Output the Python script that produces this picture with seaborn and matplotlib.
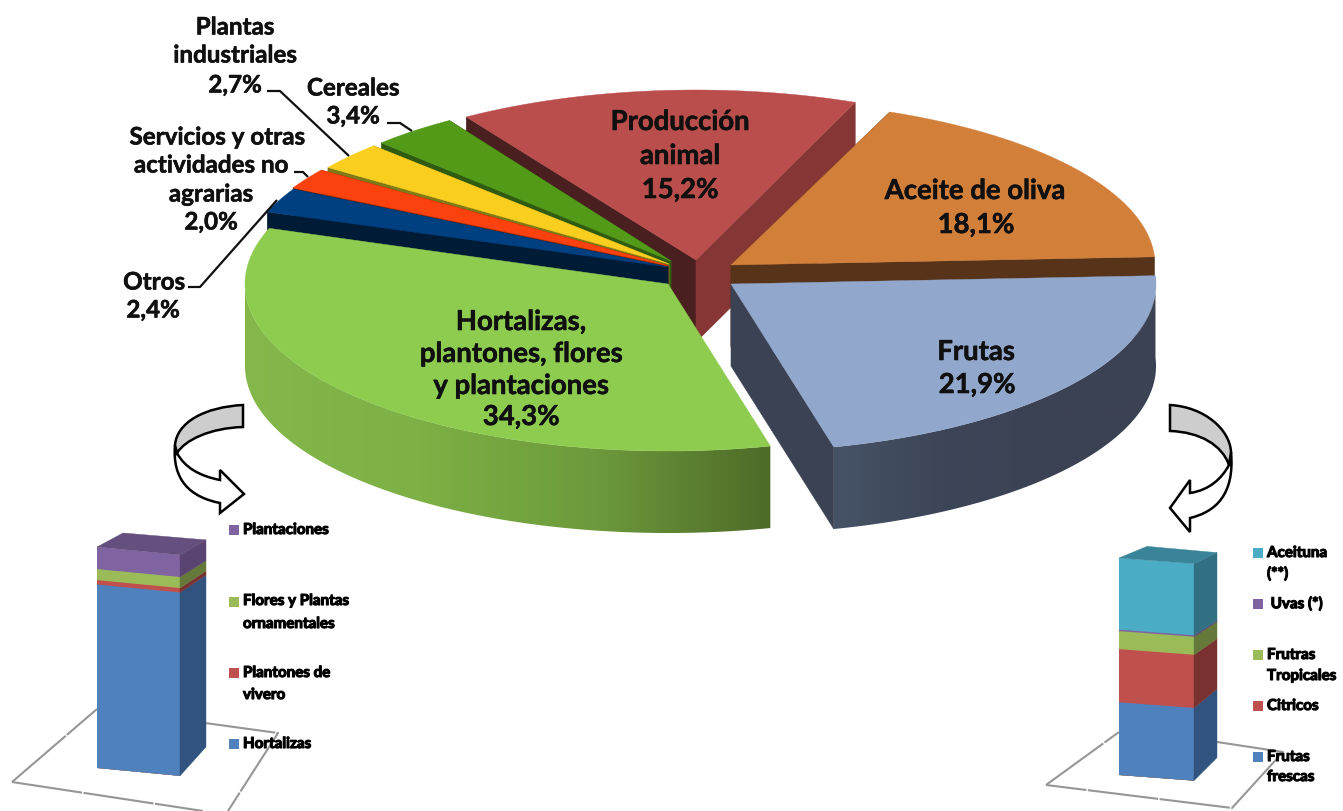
import numpy as np
import matplotlib
matplotlib.use("Agg")
import matplotlib.pyplot as plt
import matplotlib.patheffects as pe
from matplotlib.path import Path
from matplotlib.patches import PathPatch, Rectangle
from matplotlib.transforms import Affine2D
import seaborn as sns

# ---------- data ----------
pie_names = ["Aceite de oliva", "Frutas", "Hortalizas,\nplantones, flores\ny plantaciones",
             "Otros", "Servicios y otras\nactividades no\nagrarias",
             "Plantas\nindustriales", "Cereales", "Producción\nanimal"]
pie_values = [18.1, 21.9, 34.3, 2.4, 2.0, 2.7, 3.4, 15.2]

left_names = ["Hortalizas", "Plantones de\nvivero", "Flores y Plantas\nornamentales", "Plantaciones"]
left_values = [83.0, 2.0, 5.0, 10.0]
right_names = ["Frutas\nfrescas", "Citricos", "Frutras\nTropicales", " Uvas (*)", "Aceituna\n(**)"]
right_values = [33.5, 24.5, 8.3, 0.7, 33.0]

# ---------- style ----------
sns.set_theme(style="white")
plt.rcParams["font.family"] = ["Lato", "DejaVu Sans"]
plt.rcParams["font.weight"] = "bold"
INK = "#101010"

fig = plt.figure(figsize=(13.43, 8.11), dpi=100, facecolor="white")
ax = fig.add_axes([0, 0, 1, 1])
ax.set_xlim(0, 1343)
ax.set_ylim(811, 0)
ax.set_autoscale_on(False)
ax.axis("off")

DEPTH = 82
START = 68.0  # rotation of the first slice, clockwise from here

# per-slice: centre x, centre y, rx, ry, top colour, cut-wall colours, outer wall palette
slice_style = {
    "Aceite de oliva": dict(c=(731, 265), r=(424, 165), top="#D27F3A", cut=("#57331A", "#57331A"), wall=None),
    "Frutas": dict(c=(731, 284), r=(425, 168), top="#92A7CC", cut=(None, "#3B4253"),
                   wall=["#465366", "#3D4558", "#3B4253", "#3B4253"]),
    "Hortalizas,\nplantones, flores\ny plantaciones": dict(c=(668, 284), r=(423, 167), top="#8ECC50",
                   cut=(None, None), wall=["#85B84B", "#7DB045", "#6D9A3C", "#4E6B28"]),
    "Otros": dict(c=(668, 267), r=(425, 165), top="#004080", cut=("#001B36", "#001B36"), wall=None),
    "Servicios y otras\nactividades no\nagrarias": dict(c=(668, 265.5), r=(425, 165), top="#FB410D",
                   cut=("#8A2C0A", "#8A2C0A"), wall=None),
    "Plantas\nindustriales": dict(c=(669, 264), r=(418, 167), top="#F9CE1E", cut=("#7F7A16", "#7F7A16"), wall=None),
    "Cereales": dict(c=(671, 261), r=(410, 167), top="#529A18", cut=("#2F5C10", "#2F5C10"), wall=None),
    "Producción\nanimal": dict(c=(696, 260), r=(425, 170), top="#BA4E4C", cut=("#4A1F20", "#853635"), wall=None),
}

# angular extent of each slice from its value
bounds = {}
a = START
for n, v in zip(pie_names, pie_values):
    bounds[n] = (a, a - v * 3.6)
    a -= v * 3.6


def pt(c, r, deg):
    t = np.radians(deg)
    return c[0] + r[0] * np.cos(t), c[1] - r[1] * np.sin(t)


def draw_slice(name):
    st = slice_style[name]
    c, r = st["c"], st["r"]
    a0, a1 = bounds[name]
    # cut walls
    for deg, col in zip((a0, a1), st["cut"]):
        if col is None:
            continue
        x, y = pt(c, r, deg)
        ax.fill([c[0], x, x, c[0]], [c[1], y, y + DEPTH, c[1] + DEPTH],
                color=col, lw=0.4, zorder=z[0])
    # outer wall with a horizontal gradient
    if st["wall"]:
        lo, hi = max(a1, -180), min(a0, 4)
        ts = np.linspace(lo, hi, 200)
        xs, ys = pt(c, r, ts)
        verts = np.c_[np.r_[xs, xs[::-1]], np.r_[ys, ys[::-1] + DEPTH]]
        pal = np.array(sns.blend_palette(st["wall"], n_colors=256))[:, :3]
        im = ax.imshow(pal[None, :, :], extent=(xs.min(), xs.max(), ys.max() + DEPTH, ys.min()),
                       aspect="auto", zorder=z[0], interpolation="bilinear")
        im.set_clip_path(Path(np.r_[verts, verts[:1]], closed=True), ax.transData)
    # top
    ts = np.linspace(a0, a1, 160)
    xs, ys = pt(c, r, ts)
    ax.fill(np.r_[c[0], xs], np.r_[c[1], ys], color=st["top"], lw=0.3, zorder=z[0])
    z[0] += 1


z = [2]
order = ["Producción\nanimal", "Cereales", "Plantas\nindustriales",
         "Servicios y otras\nactividades no\nagrarias", "Otros",
         "Hortalizas,\nplantones, flores\ny plantaciones", "Aceite de oliva", "Frutas"]
for nm in order:
    draw_slice(nm)
ax.set_xlim(0, 1343)
ax.set_ylim(811, 0)


def label(x, y, s, size=19.5, halo=0.4):
    ax.text(x, y, s, ha="center", va="center", fontsize=size, fontweight="bold", color=INK, zorder=50,
            path_effects=[pe.withStroke(linewidth=halo, foreground=INK)])


# labels inside the pie
for (x, y, s) in [(680, 122, "Producción"), (680, 156, "animal"), (680, 190, "15,2%"),
                  (975, 191, "Aceite de oliva"), (976, 225, "18,1%"),
                  (976, 352, "Frutas"), (977, 385, "21,9%"),
                  (521, 322, "Hortalizas,"), (521, 354, "plantones, flores"),
                  (521, 386, "y plantaciones"), (521, 417, "34,3%")]:
    label(x, y, s, size=19.8)
# labels outside
for (x, y, s) in [(235, 27, "Plantas"), (235, 55, "industriales"), (235, 85, "2,7%"),
                  (353, 88, "Cereales"), (353, 116, "3,4%"),
                  (217, 137, "Servicios y otras"), (211, 165, "actividades no"),
                  (211, 194, "agrarias"), (211, 222, "2,0%"),
                  (154, 282, "Otros"), (153, 310, "2,4%")]:
    label(x, y, s, size=17.4)

# leader lines
for xs, ys in [((267, 280, 349), (91, 91, 156)),
               ((387, 400, 412), (123, 123, 131)),
               ((294, 303, 308), (172, 172, 177)),
               ((188, 200, 277), (287, 287, 200))]:
    ax.plot(xs, ys, color="#101010", lw=1.6, zorder=40, solid_capstyle="butt")


# curved arrows
def arrow(gray_pts, white_pts):
    for pts, col in ((white_pts, "white"), (gray_pts, "#CDCDCD")):
        verts, codes = [pts[0]], [Path.MOVETO]
        for p in pts[1:]:
            if len(p) == 3:
                verts += list(p)
                codes += [Path.CURVE4] * 3
            else:
                verts.append(p)
                codes.append(Path.LINETO)
        verts.append(pts[0])
        codes.append(Path.CLOSEPOLY)
        ax.add_patch(PathPatch(Path(verts, codes), fc=col, ec="black", lw=1.8, zorder=30, joinstyle="miter"))


arrow([(243, 405), ((205, 407), (177, 422), (175, 445)), (177, 453), ((185, 440), (210, 428), (243, 427))],
      [(177, 453), ((185, 468), (200, 476), (220, 480)), (220, 470), (244, 494), (220, 513), (220, 503),
       ((190, 497), (172, 480), (175, 445))])
arrow([(1170, 405), ((1205, 407), (1230, 430), (1231, 452)), (1229, 465), ((1222, 445), (1200, 432), (1170, 431))],
      [(1229, 465), ((1222, 478), (1210, 490), (1190, 493)), (1190, 480), (1170, 508), (1190, 532), (1190, 518),
       ((1215, 512), (1235, 495), (1231, 452))])

# floor outlines of the two stacks
for xs, ys in [((12, 97), (782, 709)), ((205, 278, 228), (723, 733, 811)), ((12, 203), (782, 811)),
               ((1046, 1119), (785, 732)), ((1217, 1283, 1232, 1046), (742, 752, 808, 785))]:
    ax.plot(xs, ys, color="#969696", lw=1.5, zorder=1, ls=(0, (34, 0.7)))


FRONT = ["#4F81BD", "#C0504D", "#9BBB59", "#8064A2", "#4BACC6"]
SIDE = ["#32537D", "#7A3231", "#657A3A", "#5A4472", "#317083"]


def stack(values, names, box, skew, back_bottom, back_top, top_col, colors_front, colors_side, corner):
    """box = x0, x1, y_top, y_bottom in pixels of the left edge of the front face."""
    x0, x1, yt, yb = box
    iax = fig.add_axes([x0 / 1343, 1 - yb / 811, (x1 - x0) / 1343, (yb - yt) / 811], zorder=5)
    total = sum(values)
    cum = np.cumsum(values)
    # cumulative bars drawn from the tallest down give the stacked front face
    for nm, h, col in list(zip(names, cum, colors_front))[::-1]:
        sns.barplot(x=["stack"], y=[h], color=col, saturation=1, width=1, ax=iax, linewidth=0)
    iax.set_xlim(-0.5, 0.5)
    iax.set_ylim(0, total)
    iax.axis("off")
    ppx = 1.0 / (x1 - x0)
    ppy = total / (yb - yt)
    px0 = iax.transData.transform((-0.5, 0))[0]
    shear = Affine2D.from_values(1, -skew, 0, 1, 0, skew * px0)
    trans = iax.transData + shear
    for p in iax.patches:
        p.set_transform(trans)
        p.set_clip_on(False)

    def back(h):
        f = h / total
        dx = back_bottom[0] + (back_top[0] - back_bottom[0]) * f
        dy = back_bottom[1] + (back_top[1] - back_bottom[1]) * f
        # compensate the shear over dx
        return dx * ppx, (dy + skew * dx) * ppy

    edges = np.r_[0, cum]
    for lo, hi, col in zip(edges[:-1], edges[1:], colors_side):
        b0, b1 = back(lo), back(hi)
        iax.fill([0.5, 0.5 + b0[0], 0.5 + b1[0], 0.5], [lo, lo + b0[1], hi + b1[1], hi],
                 color=col, lw=0.3, transform=trans, clip_on=False)
    b = back(total)
    bl = corner[0] * ppx
    iax.fill([-0.5, 0.5, 0.5 + b[0], -0.5 + bl],
             [total, total, total + b[1], total + b[1] + corner[1] * ppy],
             color=top_col, lw=0.3, transform=trans, clip_on=False)


stack(left_values, left_names, (97, 180, 547, 768), 0.095, (26, 29), (26, 15), "#644F7E",
      [FRONT[0], FRONT[1], FRONT[2], FRONT[3]], [SIDE[0], SIDE[1], SIDE[2], SIDE[3]], (26, -1))
stack(right_values, right_names, (1119, 1194, 558, 775), 0.075, (23, 23), (23, 11), "#3A8499",
      FRONT, SIDE, (28, 1))


# legends
def legend_item(sx, sy, color, tx, lines):
    ax.add_patch(Rectangle((sx, sy - 5), 10, 10, fc=color, ec="none", zorder=20))
    for ty, s in lines:
        ax.text(tx, ty, s, ha="left", va="center", fontsize=10.9, fontweight="bold", color="#000000", zorder=21,
                path_effects=[pe.withStroke(linewidth=0.8, foreground="#000000")])


def split(name):
    return name.split("\n")


legend_item(229, 530, FRONT[3], 243, [(530, split(left_names[3])[0])])
legend_item(229, 602, FRONT[2], 243, [(601, split(left_names[2])[0]), (624, split(left_names[2])[1])])
legend_item(229, 673, FRONT[1], 243, [(673, split(left_names[1])[0]), (695, split(left_names[1])[1])])
legend_item(229, 744, FRONT[0], 243, [(744, split(left_names[0])[0])])

legend_item(1253, 553, FRONT[4], 1267, [(553, split(right_names[4])[0]), (574, split(right_names[4])[1])])
legend_item(1253, 604, FRONT[3], 1267, [(604, right_names[3])])
legend_item(1253, 655, FRONT[2], 1267, [(655, split(right_names[2])[0]), (676, split(right_names[2])[1])])
legend_item(1253, 706, FRONT[1], 1267, [(706, right_names[1])])
legend_item(1253, 757, FRONT[0], 1267, [(757, split(right_names[0])[0]), (777, split(right_names[0])[1])])

fig.savefig("out.png", dpi=100, facecolor="white")
